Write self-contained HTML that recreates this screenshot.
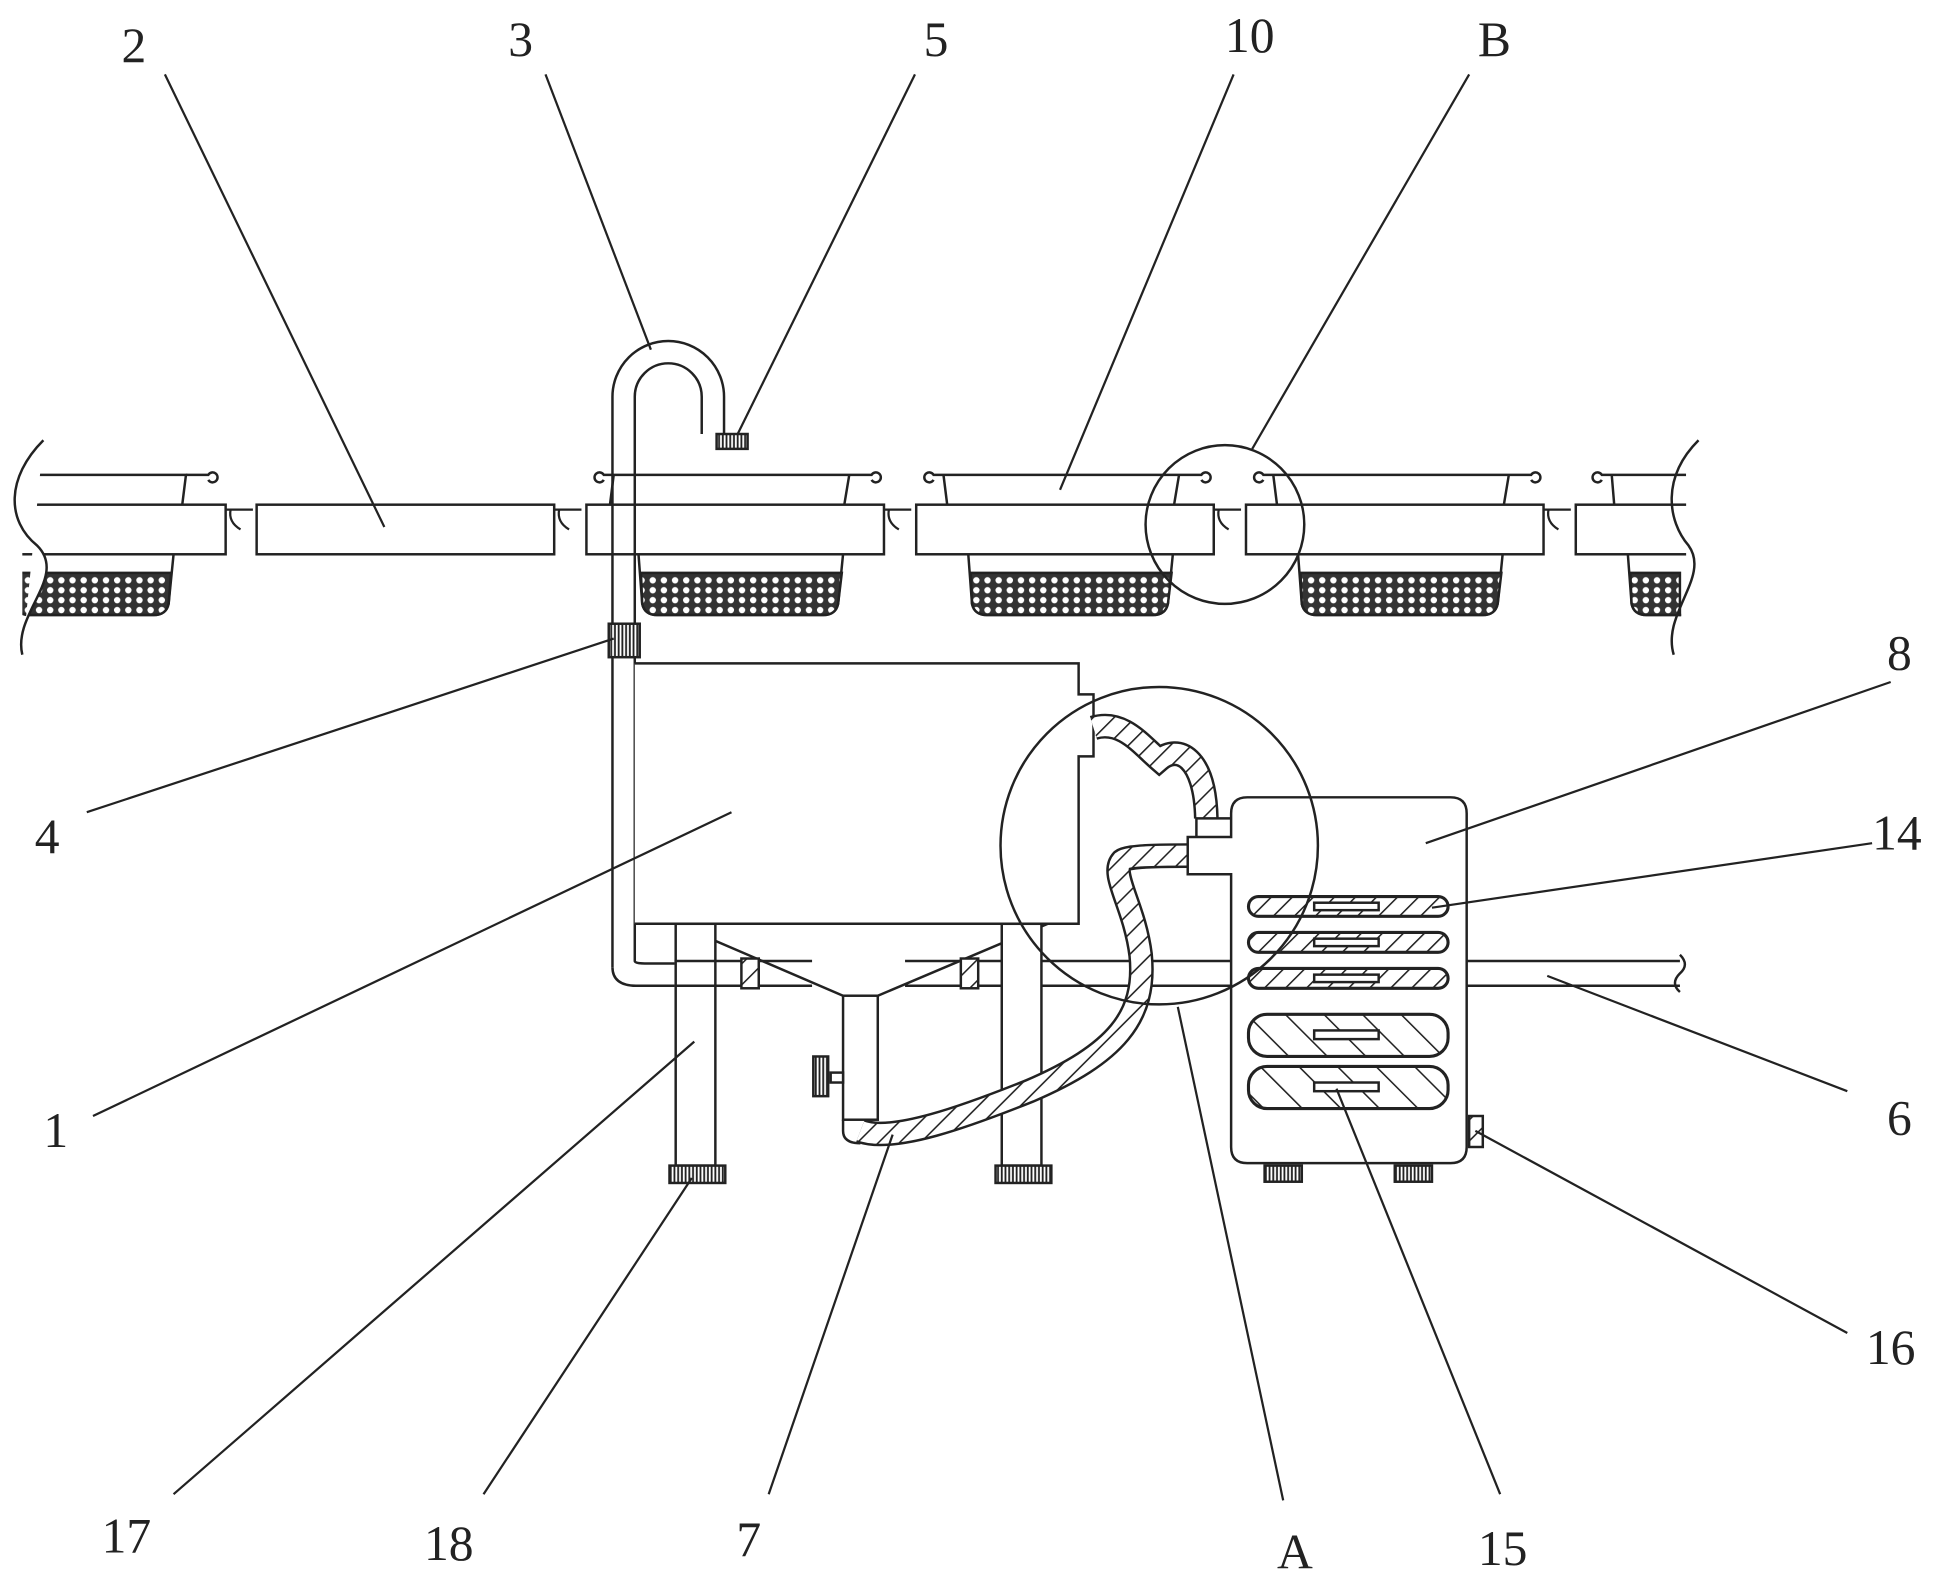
<!DOCTYPE html>
<html><head><meta charset="utf-8"><style>
html,body{margin:0;padding:0;background:#fff;}
svg{display:block;}
text{font-family:"Liberation Serif","Noto Serif CJK SC",serif;font-size:40px;fill:#222;}
</style></head><body>
<svg width="1944" height="1581" viewBox="0 0 1568 1275" preserveAspectRatio="none" xmlns="http://www.w3.org/2000/svg">
<defs>
<pattern id="mesh" width="9" height="8" patternUnits="userSpaceOnUse">
<rect width="9" height="8" fill="#333"/><circle cx="4.5" cy="4" r="2.6" fill="#fff"/>
</pattern>
<pattern id="hatch" width="12" height="12" patternUnits="userSpaceOnUse" patternTransform="rotate(45)">
<rect width="12" height="12" fill="#fff"/><line x1="0" y1="0" x2="0" y2="12" stroke="#222" stroke-width="2.5"/>
</pattern>
<pattern id="hatch2" width="22" height="22" patternUnits="userSpaceOnUse" patternTransform="rotate(-45)">
<rect width="22" height="22" fill="#fff"/><line x1="0" y1="0" x2="0" y2="22" stroke="#222" stroke-width="2.5"/>
</pattern>
<pattern id="knurl" width="3" height="10" patternUnits="userSpaceOnUse">
<rect width="3" height="10" fill="#fff"/><line x1="1" y1="0" x2="1" y2="10" stroke="#222" stroke-width="1.5"/>
</pattern>
</defs>
<g fill="none" stroke="#222" stroke-width="2">
<rect x="0" y="407" width="182" height="40" fill="#fff"/>
<rect x="207" y="407" width="240" height="40" fill="#fff"/>
<rect x="473" y="407" width="240" height="40" fill="#fff"/>
<rect x="739" y="407" width="240" height="40" fill="#fff"/>
<rect x="1005" y="407" width="240" height="40" fill="#fff"/>
<rect x="1271" y="407" width="95" height="40" fill="#fff"/>
<g stroke-width="1.8">
<path d="M182 411 h22 M186 411 q-2 10 8 16"/>
<path d="M447 411 h22 M451 411 q-2 10 8 16"/>
<path d="M713 411 h22 M717 411 q-2 10 8 16"/>
<path d="M979 411 h22 M983 411 q-2 10 8 16"/>
<path d="M1245 411 h22 M1249 411 q-2 10 8 16"/>
</g>
<path d="M20 383 h130 l-3 24"/><path d="M150 383 h18 a4 4 0 1 1 0 4"/>
<path d="M495 383 l-3 24 M495 383 h190 l-4 24 M495 383 h-8 a4 4 0 1 0 0 4 M685 383 h18 a4 4 0 1 1 0 4"/>
<path d="M761 383 l3 24 M761 383 h190 l-4 24 M761 383 h-8 a4 4 0 1 0 0 4 M951 383 h18 a4 4 0 1 1 0 4"/>
<path d="M1027 383 l3 24 M1027 383 h190 l-4 24 M1027 383 h-8 a4 4 0 1 0 0 4 M1217 383 h18 a4 4 0 1 1 0 4"/>
<path d="M1300 383 l2 24 M1300 383 h60 M1300 383 h-8 a4 4 0 1 0 0 4"/>
<path d="M10 447 v15 M140 447 l-4 40 q-2 9 -12 9 h-100 q-10 0 -14 -9" />
<path d="M12 462 h126 l-2 25 q-2 9 -12 9 h-100 q-10 0 -12 -9z" fill="url(#mesh)"/>
<path d="M515 447 l3 40 q2 9 12 9 h134 q10 0 12 -9 l4 -40"/>
<path d="M517 462 h162 l-3 25 q-2 9 -12 9 h-134 q-10 0 -12 -9z" fill="url(#mesh)"/>
<path d="M781 447 l3 40 q2 9 12 9 h134 q10 0 12 -9 l4 -40"/>
<path d="M783 462 h162 l-3 25 q-2 9 -12 9 h-134 q-10 0 -12 -9z" fill="url(#mesh)"/>
<path d="M1047 447 l3 40 q2 9 12 9 h134 q10 0 12 -9 l4 -40"/>
<path d="M1049 462 h162 l-3 25 q-2 9 -12 9 h-134 q-10 0 -12 -9z" fill="url(#mesh)"/>
<path d="M1313 447 l3 40 q2 9 12 9 h28"/>
<path d="M1315 462 h40 v34 h-27 q-10 0 -12 -9z" fill="url(#mesh)"/>
<rect x="0" y="350" width="18" height="180" fill="#fff" stroke="none"/>
<path d="M35 355 C5 385, 5 420, 30 440 C55 465, 10 495, 18 528" fill="#fff"/>
<rect x="1360" y="350" width="30" height="180" fill="#fff" stroke="none"/>
<path d="M1370 355 C1340 385, 1345 420, 1362 440 C1380 465, 1340 495, 1350 528"/>
<path d="M494 780 V320 A45 45 0 0 1 584 320 V350 M512 775 V320 A27 27 0 0 1 566 320 V350" fill="none"/>
<path d="M494 780 q0 15 20 15 h30 M512 775 q0 2 8 2 h24"/>
<rect x="578" y="350" width="25" height="12" fill="url(#knurl)"/>
<rect x="491" y="503" width="25" height="27" fill="url(#knurl)"/>
<path d="M512 535 H870 V560 H882 V610 H870 V745 H512" fill="#fff"/>
<path d="M545 745 H845 L708 803 H680 Z" fill="#fff"/>
<rect x="680" y="803" width="28" height="100" fill="#fff"/>
<rect x="545" y="745" width="32" height="195" fill="#fff"/>
<rect x="808" y="745" width="32" height="195" fill="#fff"/>
<rect x="540" y="940" width="45" height="14" fill="url(#knurl)"/>
<rect x="803" y="940" width="45" height="14" fill="url(#knurl)"/>
<rect x="670" y="865" width="10" height="8" fill="#fff"/>
<rect x="656" y="852" width="12" height="32" fill="url(#knurl)"/>
<path d="M544 775 H655 M730 775 H808 M840 775 H993 M1183 775 H1355 M544 795 H655 M730 795 H808 M840 795 H993 M1183 795 H1355"/>
<path d="M1355 770 q8 8 0 15 q-8 8 0 15"/>
<rect x="598" y="773" width="14" height="24" fill="url(#hatch)"/>
<rect x="775" y="773" width="14" height="24" fill="url(#hatch)"/>
<!-- hoses -->
<path d="M882 587 C905 580,920 600,935 613 C950 600,972 610,973 660" stroke="#222" stroke-width="20"/>
<path d="M882 587 C905 580,920 600,935 613 C950 600,972 610,973 660" stroke="url(#hatch)" stroke-width="16"/>
<path d="M694 912 C720 922,780 900,830 880 C900 850,925 820,920 770 C915 730,895 705,905 694 C910 690,940 690,958 690" stroke="#222" stroke-width="20"/>
<path d="M694 912 C720 922,780 900,830 880 C900 850,925 820,920 770 C915 730,895 705,905 694 C910 690,940 690,958 690" stroke="url(#hatch)" stroke-width="16"/>
<path d="M680 903 V912 q0 10 14 10" />
<path d="M1006 643 H1170 q13 0 13 13 V925 q0 13 -13 13 H1006 q-13 0 -13 -13 V705 H958 V675 H993 V656 q0 -13 13 -13z" fill="#fff"/>
<path d="M965 675 V660 H993"/>
<rect x="1007" y="723" width="161" height="16" rx="8" fill="url(#hatch)" stroke-width="2.5"/>
<rect x="1007" y="752" width="161" height="16" rx="8" fill="url(#hatch)" stroke-width="2.5"/>
<rect x="1007" y="781" width="161" height="16" rx="8" fill="url(#hatch)" stroke-width="2.5"/>
<rect x="1060" y="728" width="52" height="6" fill="#fff"/>
<rect x="1060" y="757" width="52" height="6" fill="#fff"/>
<rect x="1060" y="786" width="52" height="6" fill="#fff"/>
<rect x="1007" y="818" width="161" height="34" rx="15" fill="url(#hatch2)" stroke-width="2.5"/>
<rect x="1007" y="860" width="161" height="34" rx="15" fill="url(#hatch2)" stroke-width="2.5"/>
<rect x="1060" y="831" width="52" height="7" fill="#fff"/>
<rect x="1060" y="873" width="52" height="7" fill="#fff"/>
<rect x="1020" y="940" width="30" height="13" fill="url(#knurl)"/>
<rect x="1125" y="940" width="30" height="13" fill="url(#knurl)"/>
<rect x="1185" y="900" width="11" height="25" fill="url(#hatch)"/>
<circle cx="935" cy="682" r="128"/>
<circle cx="988" cy="423" r="64"/>
<g stroke-width="1.8">
<line x1="133" y1="60" x2="310" y2="425"/>
<line x1="440" y1="60" x2="525" y2="282"/>
<line x1="738" y1="60" x2="595" y2="350"/>
<line x1="995" y1="60" x2="855" y2="395"/>
<line x1="1185" y1="60" x2="1010" y2="362"/>
<line x1="70" y1="655" x2="495" y2="515"/>
<line x1="75" y1="900" x2="590" y2="655"/>
<line x1="1525" y1="550" x2="1150" y2="680"/>
<line x1="1510" y1="680" x2="1155" y2="732"/>
<line x1="1490" y1="880" x2="1248" y2="787"/>
<line x1="1490" y1="1075" x2="1190" y2="912"/>
<line x1="1210" y1="1205" x2="1078" y2="878"/>
<line x1="1035" y1="1210" x2="950" y2="812"/>
<line x1="620" y1="1205" x2="720" y2="915"/>
<line x1="390" y1="1205" x2="558" y2="950"/>
<line x1="140" y1="1205" x2="560" y2="840"/>
</g>
</g>
<text x="98" y="50">2</text>
<text x="410" y="45">3</text>
<text x="745" y="45">5</text>
<text x="988" y="42">10</text>
<text x="1192" y="45">B</text>
<text x="28" y="688">4</text>
<text x="1522" y="540">8</text>
<text x="1510" y="685">14</text>
<text x="35" y="925">1</text>
<text x="1522" y="915">6</text>
<text x="1505" y="1100">16</text>
<text x="82" y="1252">17</text>
<text x="342" y="1258">18</text>
<text x="594" y="1255">7</text>
<text x="1030" y="1265">A</text>
<text x="1192" y="1262">15</text>
</svg>
</body></html>
